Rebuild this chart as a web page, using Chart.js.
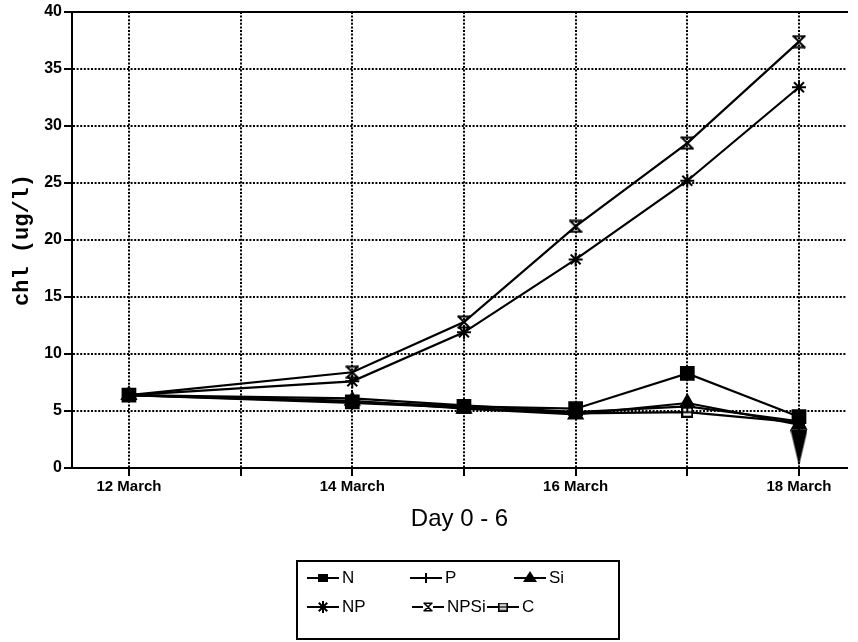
<!DOCTYPE html>
<html>
<head>
<meta charset="utf-8">
<script src="https://cdn.jsdelivr.net/npm/chart.js@4/dist/chart.umd.min.js"></script>
<style>
  html, body { margin: 0; padding: 0; background: #fff; }
  #wrap { position: relative; width: 858px; height: 642px; }
  #legend {
    position: absolute; left: 296px; top: 560px; width: 324px; height: 80px;
    border: 2px solid #000; box-sizing: border-box;
    font-family: "Liberation Sans", Arial, sans-serif; font-size: 17px; color: #000;
  }
  .item { position: absolute; display: flex; align-items: center; height: 22px; white-space: nowrap; }
  .item canvas { display: block; margin-right: 3px; }
</style>
</head>
<body>
<div id="wrap">
  <canvas id="c" width="858" height="642"></canvas>
  <div id="legend"></div>
</div>
<script>
// Sampling days (March) and chlorophyll per treatment, ug/l
const days = [12, 14, 15, 16, 17, 18];
const seriesNames = ['N', 'P', 'Si', 'NP', 'NPSi', 'C'];
const N    = [6.4, 5.8, 5.4, 5.2, 8.3, 4.5];
const P    = [6.4, 6.1, 5.5, 4.9, 5.4, 4.1];
const Si   = [6.4, 5.9, 5.2, 4.7, 5.7, 3.8];
const NP   = [6.4, 7.6, 11.9, 18.3, 25.2, 33.4];
const NPSi = [6.4, 8.4, 12.8, 21.2, 28.5, 37.4];
const C    = [6.4, 5.7, 5.3, 4.8, 4.9, 4.0];
// Arrow below the last Si reading
const arrowDays = [18];
const arrowValues = [2.0];
// Axis labelling
const labelDays = [12, 14, 16, 18];
const labelText = ['12 March', '14 March', '16 March', '18 March'];
const yTicks = [0, 5, 10, 15, 20, 25, 30, 35, 40];

const seriesValues = [N, P, Si, NP, NPSi, C];

// ---- custom marker canvases ----
function makeCanvas(w, h) {
  const cv = document.createElement('canvas');
  cv.width = w; cv.height = h;
  return cv;
}
function hourglass(s, lw) {
  const cv = makeCanvas(s, s), g = cv.getContext('2d');
  const a = lw / 2 + 0.5, b = s - lw / 2 - 0.5;
  g.strokeStyle = '#000'; g.lineWidth = lw; g.lineCap = 'square';
  g.beginPath();
  g.moveTo(a, a); g.lineTo(b, a);
  g.moveTo(a, b); g.lineTo(b, b);
  g.moveTo(a, a); g.lineTo(b, b);
  g.moveTo(b, a); g.lineTo(a, b);
  g.stroke();
  return cv;
}
function barBox(w, h, lw) {
  const cv = makeCanvas(w, h), g = cv.getContext('2d');
  g.fillStyle = '#fff'; g.fillRect(0, 0, w, h);
  g.strokeStyle = '#000'; g.lineWidth = lw;
  g.strokeRect(lw / 2, lw / 2, w - lw, h - lw);
  g.beginPath(); g.moveTo(0, h / 2); g.lineTo(w, h / 2); g.stroke();
  return cv;
}
function arrowDown(w, h) {
  const cv = makeCanvas(w, h), g = cv.getContext('2d');
  g.fillStyle = '#000'; g.strokeStyle = '#000'; g.lineWidth = 2;
  g.beginPath(); g.moveTo(w / 2, 0); g.lineTo(w / 2, 6); g.stroke();
  g.beginPath(); g.moveTo(0, 5); g.lineTo(w, 5); g.lineTo(w / 2, h); g.closePath(); g.fill();
  return cv;
}

const npsiMark = hourglass(14, 2);
const cMark = barBox(12, 11, 2);
const arrowMark = arrowDown(17, 41);

const pointStyles = ['rect', 'cross', 'triangle', 'star', npsiMark, cMark];
const pointRadii  = [9, 6, 8, 7, 7, 6];

const datasets = seriesNames.map((name, i) => ({
  label: name,
  data: days.map((d, j) => ({ x: d, y: seriesValues[i][j] })),
  borderColor: '#000',
  backgroundColor: '#000',
  borderWidth: 2.2,
  pointStyle: pointStyles[i],
  pointRadius: pointRadii[i],
  pointBorderWidth: 2,
  pointBorderColor: '#000',
  pointBackgroundColor: '#000',
  tension: 0,
  xAxisID: 'x', yAxisID: 'y'
}));
datasets.push({
  label: 'arrow',
  data: arrowDays.map((d, j) => ({ x: d, y: arrowValues[j] })),
  showLine: false,
  pointStyle: arrowMark,
  pointRadius: 10,
  xAxisID: 'x', yAxisID: 'y'
});

// dotted grid lines, solid outward tick marks
const dottedGrid = {
  color: '#000', lineWidth: 2,
  drawTicks: true, tickLength: 8, tickColor: '#000', tickWidth: 2, tickBorderDash: []
};
const solidAxis = { display: true, color: '#000', width: 2, dash: [2, 1.6] };

new Chart(document.getElementById('c'), {
  type: 'line',
  data: { datasets },
  options: {
    responsive: false,
    animation: false,
    devicePixelRatio: 1,
    layout: { padding: { top: 12, right: 0, bottom: 99, left: 0 } },
    plugins: { legend: { display: false }, tooltip: { enabled: false } },
    scales: {
      x: {
        type: 'linear', position: 'bottom',
        min: 11.49, max: 18.43,
        afterFit: s => { s.height = 75; },
        grid: dottedGrid,
        border: solidAxis,
        ticks: {
          stepSize: 1, includeBounds: false, autoSkip: false, maxRotation: 0,
          padding: 2, color: '#000',
          font: { family: '"Liberation Sans", Arial, sans-serif', size: 15, weight: 'bold' },
          callback: v => { const k = labelDays.indexOf(v); return k >= 0 ? labelText[k] : ''; }
        },
        title: {
          display: true, text: 'Day 0 - 6', color: '#000',
          font: { family: '"Liberation Sans", Arial, sans-serif', size: 24 },
          padding: { top: 0, bottom: 9 }
        }
      },
      x2: {
        type: 'linear', position: 'top',
        min: 11.49, max: 18.43,
        afterFit: s => { s.height = 0; },
        grid: { display: false, drawTicks: false },
        ticks: { display: false },
        border: { display: true, color: '#000', width: 2 }
      },
      y: {
        min: 0, max: 40,
        afterFit: s => { s.width = 72; },
        afterBuildTicks: s => { s.ticks = yTicks.map(v => ({ value: v })); },
        grid: dottedGrid,
        border: solidAxis,
        ticks: {
          padding: 2, color: '#000',
          font: { family: '"Liberation Sans", Arial, sans-serif', size: 16, weight: 'bold' }
        },
        title: {
          display: true, text: 'chl (ug/l)', color: '#000',
          font: { family: '"Liberation Mono", "DejaVu Sans Mono", monospace', size: 22, weight: 'bold' },
          padding: { top: 9, bottom: 0 }
        }
      }
    }
  }
});

// ---- legend box ----
const legendPos = [[9, 5], [112, 5], [216, 5], [9, 34], [114, 34], [189, 34]];
function legendSymbol(i) {
  const w = 32, h = 20, cv = makeCanvas(w, h), g = cv.getContext('2d');
  const cx = w / 2, cy = h / 2;
  g.strokeStyle = '#000'; g.fillStyle = '#000'; g.lineWidth = 2;
  g.beginPath(); g.moveTo(0, cy); g.lineTo(w, cy); g.stroke();
  const st = pointStyles[i];
  if (st === 'rect') { g.fillRect(cx - 5, cy - 4, 10, 8); }
  else if (st === 'cross') {
    g.beginPath(); g.moveTo(cx, cy - 5); g.lineTo(cx, cy + 5); g.stroke();
  } else if (st === 'triangle') {
    g.beginPath(); g.moveTo(cx - 7, cy + 4); g.lineTo(cx + 7, cy + 4); g.lineTo(cx, cy - 7); g.closePath(); g.fill();
  } else if (st === 'star') {
    g.beginPath();
    for (let k = 0; k < 4; k++) {
      const a = k * Math.PI / 4;
      g.moveTo(cx - 6 * Math.cos(a), cy - 6 * Math.sin(a));
      g.lineTo(cx + 6 * Math.cos(a), cy + 6 * Math.sin(a));
    }
    g.stroke();
  } else {
    const img = st === npsiMark ? hourglass(10, 1.6) : barBox(10, 9, 1.6);
    g.fillStyle = '#fff'; g.fillRect(cx - 5, cy - 5, 10, 10);
    g.drawImage(img, cx - img.width / 2, cy - img.height / 2);
  }
  return cv;
}
const legend = document.getElementById('legend');
seriesNames.forEach((name, i) => {
  const it = document.createElement('div');
  it.className = 'item';
  it.style.left = legendPos[i][0] + 'px';
  it.style.top = legendPos[i][1] + 'px';
  it.appendChild(legendSymbol(i));
  const t = document.createElement('span');
  t.textContent = name;
  it.appendChild(t);
  legend.appendChild(it);
});
</script>
</body>
</html>
